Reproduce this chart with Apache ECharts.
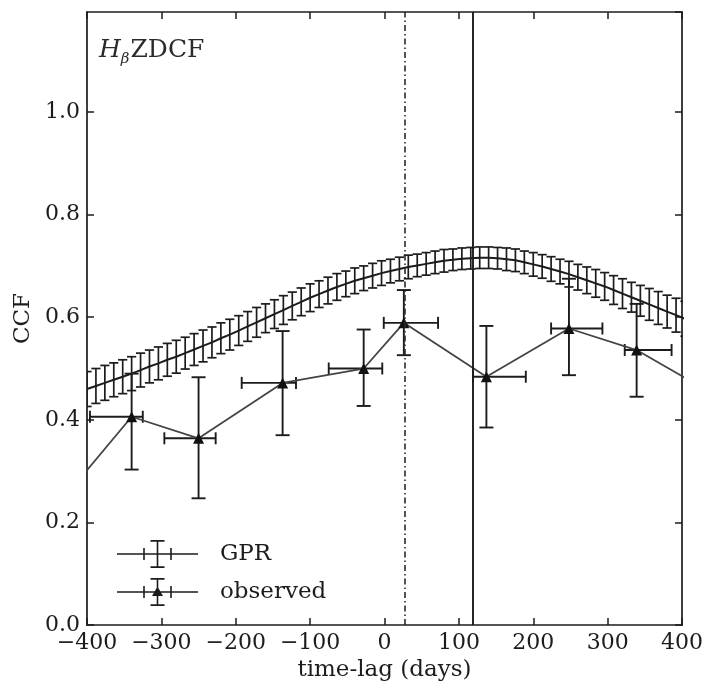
<!DOCTYPE html>
<html><head><meta charset="utf-8">
<script src="https://cdn.jsdelivr.net/npm/echarts@6/dist/echarts.min.js"></script>
<style>html,body{margin:0;padding:0;background:#fff}#c{width:706px;height:688px}</style>
</head><body><div id="c"></div>
<script>
// ---- GPR (Gaussian-process reconstruction) CCF ----
const gprLag = [-400,-388,-376,-364,-352,-340,-328,-316,-304,-292,-280,-268,-256,-244,-232,-220,-208,-196,-184,-172,-160,-148,-136,-124,-112,-100,-88,-76,-64,-52,-40,-28,-16,-4,8,20,32,44,56,68,80,92,104,116,128,140,152,164,176,188,200,212,224,236,248,260,272,284,296,308,320,332,344,356,368,380,392,404];
const gprCCF = [0.460,0.466,0.472,0.478,0.484,0.490,0.497,0.504,0.510,0.517,0.523,0.530,0.537,0.544,0.551,0.559,0.566,0.574,0.582,0.590,0.598,0.606,0.614,0.622,0.630,0.638,0.645,0.652,0.659,0.665,0.671,0.676,0.681,0.686,0.690,0.694,0.698,0.701,0.704,0.707,0.710,0.712,0.714,0.715,0.716,0.716,0.715,0.713,0.711,0.707,0.703,0.699,0.694,0.689,0.684,0.678,0.672,0.666,0.660,0.653,0.646,0.639,0.632,0.625,0.618,0.611,0.604,0.597];
const gprErr = [0.034,0.034,0.034,0.033,0.033,0.033,0.033,0.032,0.032,
                0.032,0.032,0.031,0.031,0.031,0.030,0.030,0.030,0.029,
                0.029,0.029,0.028,0.028,0.028,0.027,0.027,0.027,0.026,
                0.026,0.026,0.025,0.025,0.024,0.024,0.024,0.023,0.023,
                0.023,0.022,0.022,0.022,0.022,0.021,0.021,0.021,0.021,
                0.021,0.021,0.022,0.022,0.022,0.023,0.023,0.024,0.024,
                0.025,0.025,0.026,0.027,0.027,0.028,0.029,0.029,0.030,
                0.031,0.032,0.032,0.033,0.034];

// ---- observed ZDCF ----
const obsLag    = [-340, -250, -137, -28, 26, 137, 248, 339];
const obsCCF    = [0.406, 0.364, 0.472, 0.500, 0.589, 0.484, 0.578, 0.536];
const obsLagLo  = [-396, -296, -192, -75, -1, 119, 224, 323];
const obsLagHi  = [-325, -227, -119, -3, 72, 190, 293, 386];
const obsCCFLo  = [0.303, 0.247, 0.370, 0.427, 0.526, 0.385, 0.487, 0.445];
const obsCCFHi  = [0.490, 0.483, 0.573, 0.576, 0.653, 0.583, 0.675, 0.626];
// neighbouring ZDCF bins just outside the plotted window (line continues to the frame)
const obsEdgeLag = [-430, 430];
const obsEdgeCCF = [0.250, 0.460];

// ---- reference lags ----
const lagDashDot = 27;
const lagSolid = 119;

// ---- axes ----
const xMin = -400, xMax = 400, xStep = 100;
const yMin = 0, yMax = 1.195, yStep = 0.2;

const FONT = 'DejaVu Serif';
const INK = '#1c1c1c';

const gprData = gprLag.map((x, i) => [x, gprCCF[i], gprErr[i]]);
const obsErrData = obsLag.map((x, i) => [x, obsCCF[i], obsLagLo[i], obsLagHi[i], obsCCFLo[i], obsCCFHi[i]]);
const obsLineData = [[obsEdgeLag[0], obsEdgeCCF[0]]]
  .concat(obsLag.map((x, i) => [x, obsCCF[i]]))
  .concat([[obsEdgeLag[1], obsEdgeCCF[1]]]);

function renderGPR(params, api) {
  const x = api.value(0), y = api.value(1), e = api.value(2);
  const t = api.coord([x, y + e]), b = api.coord([x, y - e]);
  const cw = 4.6;
  const st = { stroke: INK, lineWidth: 1.7, fill: null };
  return { type: 'group', children: [
    { type: 'line', shape: { x1: t[0], y1: t[1], x2: b[0], y2: b[1] }, style: st },
    { type: 'line', shape: { x1: t[0] - cw, y1: t[1], x2: t[0] + cw, y2: t[1] }, style: st },
    { type: 'line', shape: { x1: b[0] - cw, y1: b[1], x2: b[0] + cw, y2: b[1] }, style: st }
  ]};
}

function renderObs(params, api) {
  const x = api.value(0), y = api.value(1);
  const l = api.coord([api.value(2), y]), r = api.coord([api.value(3), y]);
  const t = api.coord([x, api.value(5)]), b = api.coord([x, api.value(4)]);
  const cw = 7, ch = 6;
  const st = { stroke: INK, lineWidth: 1.9, fill: null };
  return { type: 'group', children: [
    { type: 'line', shape: { x1: l[0], y1: l[1], x2: r[0], y2: r[1] }, style: st },
    { type: 'line', shape: { x1: l[0], y1: l[1] - ch, x2: l[0], y2: l[1] + ch }, style: st },
    { type: 'line', shape: { x1: r[0], y1: r[1] - ch, x2: r[0], y2: r[1] + ch }, style: st },
    { type: 'line', shape: { x1: t[0], y1: t[1], x2: b[0], y2: b[1] }, style: st },
    { type: 'line', shape: { x1: t[0] - cw, y1: t[1], x2: t[0] + cw, y2: t[1] }, style: st },
    { type: 'line', shape: { x1: b[0] - cw, y1: b[1], x2: b[0] + cw, y2: b[1] }, style: st }
  ]};
}

const iconBase = 'M0,13.2h81v1.6h-81z M39.7,0h1.6v28h-1.6z M33.5,0h14v1.7h-14z M33.5,26.3h14v1.7h-14z M26.2,8h1.6v12h-1.6z M53.2,8h1.6v12h-1.6z';
const iconGPR = 'path://' + iconBase;
const iconObs = 'path://' + iconBase + ' M40.5,8.5L46,18L35,18z';

const axisLineStyle = { color: INK, width: 1.7 };
const tickStyle = { color: INK, width: 1.5 };
const minus = v => String(v).replace('-', '\u2212');

const chart = echarts.init(document.getElementById('c'), null, { renderer: 'canvas' });
chart.setOption({
  animation: false,
  backgroundColor: '#fff',
  grid: { left: 87, right: 22, top: 12, bottom: 63, containLabel: false },
  title: {
    text: '{i|H}{s|β}{n|ZDCF}',
    left: 94, top: 33,
    textStyle: {
      fontWeight: 'normal',
      rich: {
        i: { fontFamily: FONT, fontStyle: 'italic', fontWeight: 'normal', fontSize: 25, color: '#2a2a2a', verticalAlign: 'top', lineHeight: 29 },
        s: { fontFamily: FONT, fontStyle: 'italic', fontWeight: 'normal', fontSize: 15, color: '#2a2a2a', verticalAlign: 'top', lineHeight: 17, padding: [14, 1, 0, 0] },
        n: { fontFamily: FONT, fontWeight: 'normal', fontSize: 25, color: '#2a2a2a', verticalAlign: 'top', lineHeight: 29 }
      }
    }
  },
  legend: {
    orient: 'vertical', left: 112, top: 535,
    itemWidth: 81, itemHeight: 28, itemGap: 10,
    itemStyle: { color: INK, borderWidth: 0 },
    textStyle: { fontFamily: FONT, fontSize: 23, color: INK, padding: [0, 0, 0, 17] },
    data: [{ name: 'GPR', icon: iconGPR }, { name: 'observed', icon: iconObs }]
  },
  xAxis: [
    { type: 'value', position: 'bottom', min: xMin, max: xMax, interval: xStep,
      name: 'time-lag (days)', nameLocation: 'middle', nameGap: 32,
      nameTextStyle: { fontFamily: FONT, fontSize: 23, color: INK },
      axisLine: { show: true, lineStyle: axisLineStyle },
      axisTick: { show: true, inside: true, length: 7, lineStyle: tickStyle },
      axisLabel: { fontFamily: FONT, fontSize: 22, color: INK, margin: 7, formatter: minus },
      splitLine: { show: false } },
    { type: 'value', position: 'top', min: xMin, max: xMax, interval: xStep,
      axisLine: { show: true, onZero: false, lineStyle: axisLineStyle },
      axisTick: { show: true, inside: true, length: 7, lineStyle: tickStyle },
      axisLabel: { show: false }, splitLine: { show: false } }
  ],
  yAxis: [
    { type: 'value', position: 'left', min: yMin, max: yMax, interval: yStep,
      name: 'CCF', nameLocation: 'middle', nameGap: 44,
      nameTextStyle: { fontFamily: FONT, fontSize: 23, color: INK },
      axisLine: { show: true, onZero: false, lineStyle: axisLineStyle },
      axisTick: { show: true, inside: true, length: 7, lineStyle: tickStyle },
      axisLabel: { fontFamily: FONT, fontSize: 22, color: INK, margin: 7, showMaxLabel: false,
                   formatter: v => v.toFixed(1) },
      splitLine: { show: false } },
    { type: 'value', position: 'right', min: yMin, max: yMax, interval: yStep,
      axisLine: { show: true, onZero: false, lineStyle: axisLineStyle },
      axisTick: { show: true, inside: true, length: 7, lineStyle: tickStyle },
      axisLabel: { show: false }, splitLine: { show: false } }
  ],
  series: [
    { name: 'GPR', type: 'line', data: gprData.map(d => [d[0], d[1]]),
      showSymbol: false, symbol: 'none', clip: true, z: 3,
      lineStyle: { color: INK, width: 2 }, itemStyle: { color: INK },
      markLine: {
        silent: true, symbol: 'none', label: { show: false },
        data: [
          { xAxis: lagDashDot, lineStyle: { color: '#2a2a2a', width: 1.6, type: [6, 3, 1.5, 3] } },
          { xAxis: lagSolid, lineStyle: { color: INK, width: 1.9, type: 'solid' } }
        ]
      } },
    { name: 'GPR', type: 'custom', data: gprData, renderItem: renderGPR, clip: true, z: 3,
      itemStyle: { color: INK }, encode: { x: 0, y: 1 } },
    { name: 'observed', type: 'line', data: obsLineData, clip: true, z: 4,
      symbol: 'triangle', symbolSize: 11, showAllSymbol: true,
      lineStyle: { color: '#444', width: 1.8 }, itemStyle: { color: '#111' } },
    { name: 'observed', type: 'custom', data: obsErrData, renderItem: renderObs, clip: true, z: 4,
      itemStyle: { color: INK }, encode: { x: 0, y: 1 } }
  ]
});
</script>
</body></html>
